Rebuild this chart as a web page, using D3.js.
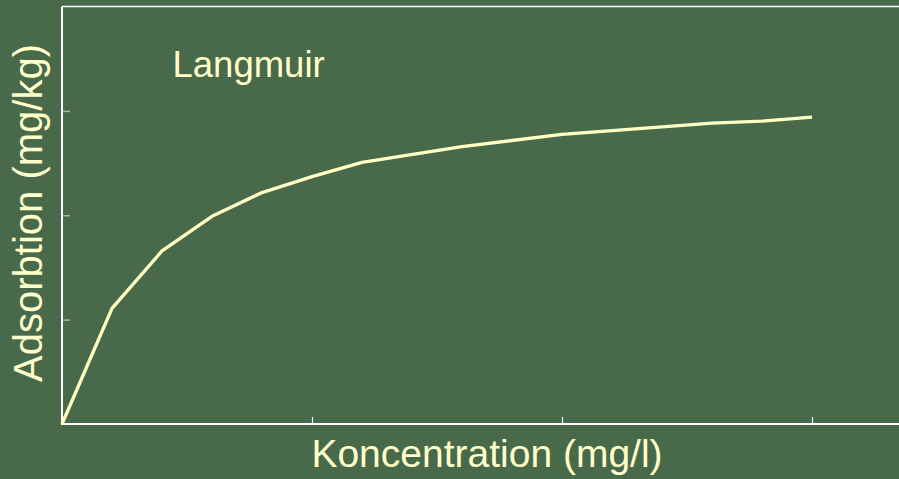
<!DOCTYPE html>
<html>
<head>
<meta charset="utf-8">
<script src="https://cdn.jsdelivr.net/npm/d3@7"></script>
<style>
  html, body { margin: 0; padding: 0; background: #496A4A; overflow: hidden; }
  svg { display: block; }
</style>
</head>
<body>
<script>
// ---- data ----
const concentration = [0, 1, 2, 3, 4, 5, 6, 8, 10, 13, 14, 15];
const adsorption    = [0, 1.107, 1.658, 1.99, 2.217, 2.37, 2.507, 2.657, 2.775, 2.883, 2.902, 2.941];
const xTicks = [5, 10, 15];
const yTicks = [1, 2, 3];
const title = "Langmuir";
const xLabel = "Koncentration (mg/l)";
const yLabel = "Adsorbtion (mg/kg)";

const W = 899, H = 479;
const bg = "#496A4A", fg = "#FFFFCC", lineCol = "#FFFFC4";

const svg = d3.select("body").append("svg").attr("width", W).attr("height", H);
svg.append("rect").attr("width", W).attr("height", H).attr("fill", bg);

const x = d3.scaleLinear().domain([0, 15]).range([62, 812]);
const y = d3.scaleLinear().domain([0, 4]).range([424, 6.5]);

// frame: top
svg.append("line").attr("x1", x(0)).attr("x2", W + 5).attr("y1", y(4)).attr("y2", y(4))
  .attr("stroke", "#fff").attr("stroke-width", 1.5);

// axes with inward ticks
const gx = svg.append("g").attr("transform", `translate(0,${y(0)})`)
  .call(d3.axisBottom(x).tickValues(xTicks).tickSize(-7).tickSizeOuter(0).tickFormat(""));
gx.select(".domain").remove();
gx.selectAll(".tick line").attr("stroke", "#fff").attr("stroke-width", 1.2);

const gy = svg.append("g").attr("transform", `translate(${x(0)},0)`)
  .call(d3.axisLeft(y).tickValues(yTicks).tickSize(-8).tickSizeOuter(0).tickFormat(""));
gy.select(".domain").remove();
gy.selectAll(".tick line").attr("stroke", "#A9B3A9").attr("stroke-width", 1.5);

svg.append("line").attr("x1", x(0)).attr("x2", W + 5).attr("y1", y(0)).attr("y2", y(0))
  .attr("stroke", "#fff").attr("stroke-width", 2);
svg.append("line").attr("x1", x(0)).attr("x2", x(0)).attr("y1", y(4)).attr("y2", y(0) + 1)
  .attr("stroke", "#fff").attr("stroke-width", 2);

// curve
const pts = concentration.map((c, i) => [c, adsorption[i]]);
svg.append("path").datum(pts)
  .attr("fill", "none").attr("stroke", lineCol).attr("stroke-width", 3.3)
  .attr("stroke-linejoin", "round").attr("stroke-linecap", "butt")
  .attr("d", d3.line().x(d => x(d[0])).y(d => y(d[1])));

// texts
const font = "'Liberation Sans', Arial, sans-serif";
svg.append("text").attr("x", 172.5).attr("y", 76.5).text(title)
  .attr("fill", fg).attr("font-family", font).attr("font-size", 36.5);

svg.append("text").attr("x", 487).attr("y", 466.5).attr("text-anchor", "middle").text(xLabel)
  .attr("fill", fg).attr("font-family", font).attr("font-size", 39);

svg.append("text").attr("transform", `translate(41.5,213) rotate(-90)`)
  .attr("text-anchor", "middle").text(yLabel)
  .attr("fill", fg).attr("font-family", font).attr("font-size", 40);
</script>
</body>
</html>
